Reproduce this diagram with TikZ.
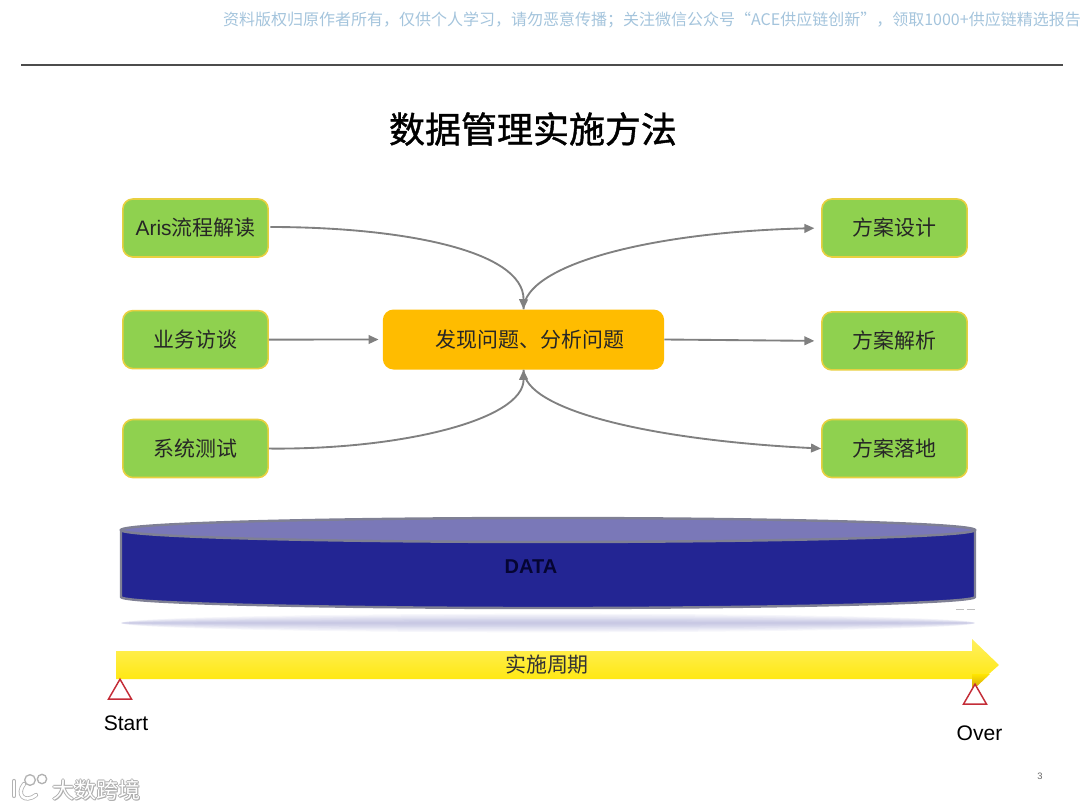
\documentclass[tikz,border=0pt]{standalone}
\usepackage{xcolor}
\usepackage{fontspec}
\setmainfont{Liberation Sans}
\newfontfamily\cjk{Noto Sans CJK SC}
\newfontfamily\cjkhead[FakeBold=1.1]{Noto Sans CJK SC}
\usepackage{tikz}
\usetikzlibrary{positioning,arrows.meta,shapes.geometric}

\definecolor{boxgreen}{HTML}{8FD14F}
\definecolor{boxedge}{HTML}{E8D040}
\definecolor{hubamber}{HTML}{FFBC00}
\definecolor{linkgray}{HTML}{808080}
\definecolor{diskblue}{HTML}{232593}
\definecolor{disktop}{HTML}{7A78B8}
\definecolor{diskrim}{HTML}{7F8094}
\definecolor{noteblue}{HTML}{A4C4DC}
\definecolor{barpale}{HTML}{FFF060}
\definecolor{barbase}{HTML}{FFE600}
\definecolor{bargold}{HTML}{D0A010}
\definecolor{flagred}{HTML}{C42D38}

\begin{document}
\begin{tikzpicture}[
        x=0.75pt, y=-0.75pt,
        stagebox/.style={
            draw=boxedge,
            line width=1.2pt,
            fill=boxgreen,
            rounded corners=7.5pt,
            minimum width=109pt,
            minimum height=43.5pt,
            inner sep=0pt,
            text=black!85,
            font=\fontsize{15.7pt}{18pt}\selectfont
        },
        hub/.style={
            fill=hubamber,
            rounded corners=8pt,
            minimum width=211pt,
            minimum height=45pt,
            inner sep=0pt,
            text=black!85,
            font=\fontsize{15.7pt}{18pt}\selectfont
        },
        link/.style={-{Triangle[length=7.5pt,width=6.5pt]}, line width=1.4pt, draw=linkgray},
        flag/.style={
            draw=flagred,
            line width=1.1pt,
            fill=white,
            regular polygon,
            regular polygon sides=3,
            minimum size=20pt,
            inner sep=0pt
        },
        caption/.style={font=\fontsize{15.8pt}{18pt}\selectfont, inner sep=0pt}
    ]
        \useasboundingbox (0,0) rectangle (1080,810);

        \node[anchor=east, text=noteblue, inner sep=0pt, font=\fontsize{12pt}{14pt}\selectfont\cjk] (note) at (1081,20)
            {资料版权归原作者所有，仅供个人学习，请勿恶意传播；关注微信公众号“ACE供应链创新”，领取1000+供应链精选报告};
        \coordinate (ruleL) at (21,65);
        \coordinate (ruleR) at (1063,65);
        \draw[line width=0.9pt, black!70] (ruleL) -- (ruleR);
        \node[inner sep=0pt, font=\fontsize{27pt}{32pt}\selectfont\cjkhead] (title) at (533,129) {数据管理实施方法};

        \node[hub] (issue) at (523.5,339.5) {\hspace{10pt}\cjk 发现问题、分析问题};

        \node[stagebox] (aris) at (195.5,228) {Aris{\cjk 流程解读}};
        \node[stagebox, below=39pt of aris] (talk) {\cjk 业务访谈};
        \node[stagebox, below=37pt of talk] (test) {\cjk 系统测试};

        \node[stagebox] (design) at (894.5,228) {\cjk 方案设计};
        \node[stagebox, below=40pt of design] (explain) {\cjk 方案解析};
        \node[stagebox, below=36pt of explain] (land) {\cjk 方案落地};

        \draw[link, shorten <=1pt] (aris.east) ++(0,-1) .. controls (400,227) and (524,250) .. (issue.north);
        \draw[link, shorten >=3pt] (talk.east) -- (issue.west);
        \draw[link] (test.east) .. controls (400,450) and (524,420) .. (issue.south);

        \draw[link, shorten >=5pt] (issue.north) .. controls (524,265) and (650,232) .. (design.west);
        \draw[link, shorten >=5pt] (issue.east) -- (explain.west);
        \draw[link] (issue.south) .. controls (524,410) and (650,440) .. (land.west);

        % data disk
        \foreach \spread in {7,6,5,4,3,2,1}
            \fill[diskblue, opacity=0.04] (548,623) ellipse [x radius=320pt, y radius=\spread pt];
        \path[draw=diskrim, line width=1.8pt, fill=diskblue]
            (121,530) -- (121,597) arc [start angle=180, end angle=360, x radius=320.25pt, y radius=8.25pt] -- (975,530) -- cycle;
        \path[draw=diskrim, line width=1.8pt, fill=disktop] (548,530) ellipse [x radius=320.25pt, y radius=9pt];
        \node[text={rgb,255:red,5;green,5;blue,50}, font=\fontsize{15pt}{18pt}\selectfont\bfseries, inner sep=0pt] (data) at (531,567) {DATA};
        \draw[black!25, line width=0.5pt, dash pattern=on 6pt off 2pt] (956,609) -- (975,609);

        % timeline
        \path[top color=barpale, bottom color=barbase]
            (116,651) -- (972,651) -- (972,639) -- (999,665) -- (972,689) -- (972,679) -- (116,679) -- cycle;
        \shade[top color=barbase, bottom color=bargold] (972,674) -- (990,674) -- (974,689) -- (972,689) -- cycle;
        \node[font=\fontsize{15.7pt}{18pt}\selectfont\cjk, text=black!80, inner sep=0pt] (cycle) at (547,665) {实施周期};

        \node[flag] (startflag) at (120,692.5) {};
        \node[flag] (overflag) at (975,697.5) {};
        \node[caption] (start) at (126,723.5) {Start};
        \node[caption] (over) at (979.5,733.5) {Over};

        \node[text=black!60, font=\fontsize{7pt}{8pt}\selectfont, inner sep=0pt] (page) at (1040,776) {3};

        % watermark
        \draw[black!30, line width=1pt, fill=white] (30,780) circle [radius=4pt];
        \draw[black!30, line width=1pt, fill=white] (42,779) circle [radius=3.5pt];
        \draw[black!30, line width=3.2pt, line cap=round] (14,781) -- (14,796);
        \draw[white, line width=2pt, line cap=round] (14,781) -- (14,796);
        \draw[black!30, line width=3.2pt, line cap=round] (24,784) .. controls (16,794) and (24,804) .. (36,795);
        \draw[white, line width=2pt, line cap=round] (24,784) .. controls (16,794) and (24,804) .. (36,795);
        \foreach \dx/\dy in {-1/0,1/0,0/-1,0/1,1/1}
            \node[text=black!32, font=\fontsize{16.5pt}{18pt}\selectfont\cjk, inner sep=0pt] at (96+\dx,790.5+\dy) {大数跨境};
        \node[text=white, font=\fontsize{16.5pt}{18pt}\selectfont\cjk, inner sep=0pt] (logo) at (96,790.5) {大数跨境};
    \end{tikzpicture}
\end{document}
